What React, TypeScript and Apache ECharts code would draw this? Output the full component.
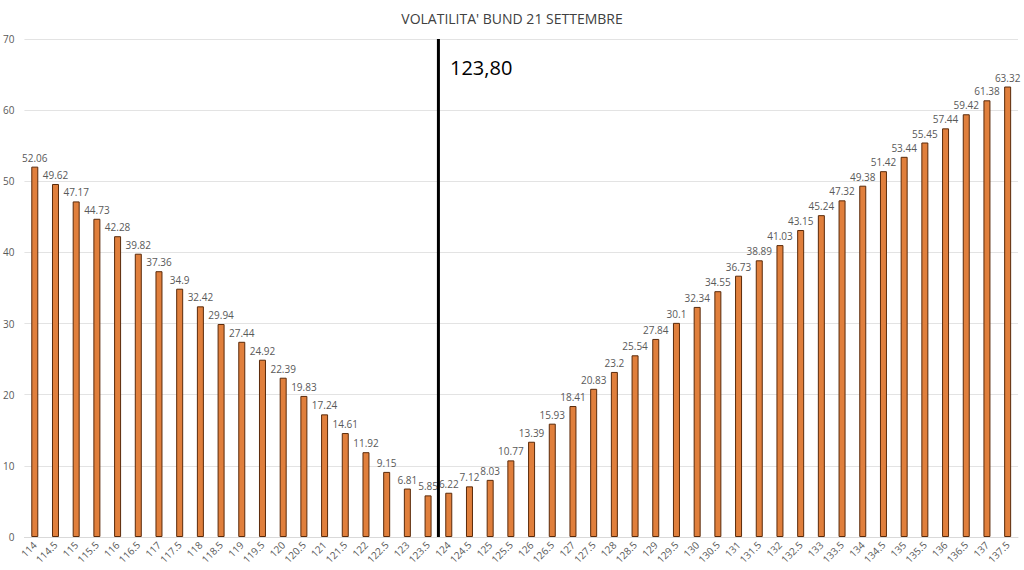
import React, { useEffect, useRef } from "react";
import * as echarts from "echarts";

const categories = [
  "114", "114.5", "115", "115.5", "116", "116.5", "117", "117.5", "118", "118.5",
  "119", "119.5", "120", "120.5", "121", "121.5", "122", "122.5", "123", "123.5",
  "124", "124.5", "125", "125.5", "126", "126.5", "127", "127.5", "128", "128.5",
  "129", "129.5", "130", "130.5", "131", "131.5", "132", "132.5", "133", "133.5",
  "134", "134.5", "135", "135.5", "136", "136.5", "137", "137.5",
];

const volatility = [
  52.06, 49.62, 47.17, 44.73, 42.28, 39.82, 37.36, 34.9, 32.42, 29.94,
  27.44, 24.92, 22.39, 19.83, 17.24, 14.61, 11.92, 9.15, 6.81, 5.85,
  6.22, 7.12, 8.03, 10.77, 13.39, 15.93, 18.41, 20.83, 23.2, 25.54,
  27.84, 30.1, 32.34, 34.55, 36.73, 38.89, 41.03, 43.15, 45.24, 47.32,
  49.38, 51.42, 53.44, 55.45, 57.44, 59.42, 61.38, 63.32,
];

const titleText = "VOLATILITA' BUND 21 SETTEMBRE";
const markerLabel = "123,80";
// strike range covered by the category bands (first centre 114, last 137.5, step 0.5)
const strikeMin = 113.75;
const strikeMax = 137.75;
// marker line drawn between the 123.5 and 124 bars
const markerStrike = 123.75;
const markerLine = [
  [markerStrike, 0],
  [markerStrike, 70],
];

const FONT = "'Open Sans', 'Noto Sans', sans-serif";

export default function App() {
  const ref = useRef<HTMLDivElement>(null);

  useEffect(() => {
    if (!ref.current) return;
    const chart = echarts.init(ref.current, null, { renderer: "svg" });
    chart.setOption({
      animation: false,
      backgroundColor: "#ffffff",
      title: {
        text: titleText,
        left: "center",
        top: 6,
        textStyle: {
          fontFamily: FONT,
          fontSize: 14,
          fontWeight: "normal",
          color: "#404040",
        },
      },
      grid: { left: 22, right: 6, top: 39, bottom: 33, containLabel: false },
      xAxis: [
        {
          type: "category",
          data: categories,
          axisLine: { show: true, lineStyle: { color: "#d9d9d9", width: 1 } },
          axisTick: { show: false },
          axisLabel: {
            rotate: 45,
            interval: 0,
            fontSize: 10,
            fontFamily: FONT,
            color: "#595959",
            margin: 6,
          },
        },
        {
          type: "value",
          min: strikeMin,
          max: strikeMax,
          show: false,
          position: "bottom",
        },
      ],
      yAxis: {
        type: "value",
        min: 0,
        max: 70,
        interval: 10,
        axisLine: { show: false },
        axisTick: { show: false },
        splitLine: { lineStyle: { color: "#e3e3e3", width: 1 } },
        axisLabel: {
          fontSize: 10,
          fontFamily: FONT,
          color: "#595959",
          margin: 10,
        },
      },
      graphic: [
        {
          type: "text",
          left: 450,
          top: 57,
          style: {
            text: markerLabel,
            fontSize: 20,
            fontFamily: FONT,
            fill: "#000000",
          },
        },
      ],
      series: [
        {
          type: "bar",
          data: volatility,
          barWidth: 7,
          itemStyle: {
            color: "#E07F3C",
            borderColor: "#5a2a0a",
            borderWidth: 1,
          },
          label: {
            show: true,
            position: "top",
            distance: 4,
            fontSize: 10,
            fontFamily: FONT,
            color: "#595959",
          },
        },
        {
          type: "line",
          xAxisIndex: 1,
          data: markerLine,
          symbol: "none",
          silent: true,
          lineStyle: { color: "#000000", width: 3 },
          z: 5,
        },
      ],
    });
    return () => chart.dispose();
  }, []);

  return (
    <div
      ref={ref}
      style={{ position: "fixed", left: 0, top: 0, width: 1024, height: 570 }}
    />
  );
}
